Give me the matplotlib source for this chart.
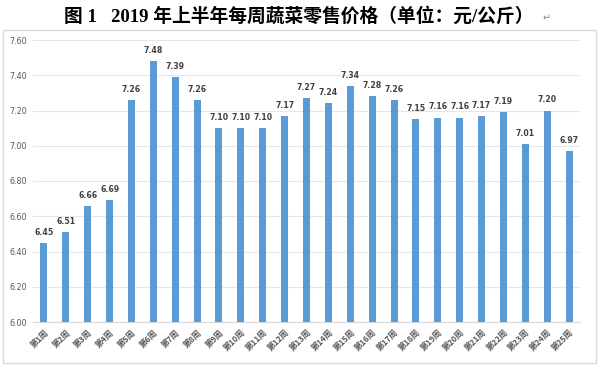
import matplotlib.pyplot as plt
from matplotlib.patches import Rectangle

plt.rcParams['font.family'] = ['DejaVu Sans', 'Noto Sans CJK SC']

weeks = ["第%d周" % i for i in range(1, 26)]
prices = [6.45, 6.51, 6.66, 6.69, 7.26, 7.48, 7.39, 7.26, 7.10, 7.10,
          7.10, 7.17, 7.27, 7.24, 7.34, 7.28, 7.26, 7.15, 7.16, 7.16,
          7.17, 7.19, 7.01, 7.20, 6.97]
yticks = [6.00, 6.20, 6.40, 6.60, 6.80, 7.00, 7.20, 7.40, 7.60]

fig = plt.figure(figsize=(5.99, 3.66), dpi=100)
fig.patches.append(Rectangle((3/599, 3/366), 593/599, 333/366, transform=fig.transFigure,
                             fill=False, edgecolor='#d9d9d9', linewidth=1))

fig.text(0.498, 0.954, "图 1   2019 年上半年每周蔬菜零售价格（单位：元/公斤）",
         ha='center', va='center', fontsize=13.5, fontweight='bold',
         family=['Liberation Serif', 'Noto Sans CJK SC'])
fig.text(0.905, 0.950, "↵", ha='left', va='center', fontsize=7, color='#888888')

ax = fig.add_axes([33/599, 44/366, 547/599, 282/366])
x = list(range(len(weeks)))
bars = ax.bar(x, prices, width=0.32, color='#5b9bd5', zorder=3)
for xi, v in zip(x, prices):
    ax.text(xi, v + 0.035, "%.2f" % v, ha='center', va='bottom', fontsize=5.6,
            fontweight='bold', color='#404040')

ax.set_ylim(6.0, 7.6)
ax.set_xlim(-0.5, 24.5)
ax.set_yticks(yticks)
ax.set_yticklabels(["%.2f" % t for t in yticks], fontsize=5.8, color='#595959')
ax.set_xticks(x)
ax.set_xticklabels(weeks, rotation=45, ha='right', rotation_mode='anchor',
                   fontsize=6, fontweight='bold', color='#595959',
                   family=['Noto Sans CJK SC'])
ax.grid(axis='y', color='#e6e6e6', linewidth=0.8, zorder=0)
for s in ['top', 'right', 'left']:
    ax.spines[s].set_visible(False)
ax.spines['bottom'].set_color('#d9d9d9')
ax.tick_params(length=0, pad=4)

fig.savefig('out.png', dpi=100)
